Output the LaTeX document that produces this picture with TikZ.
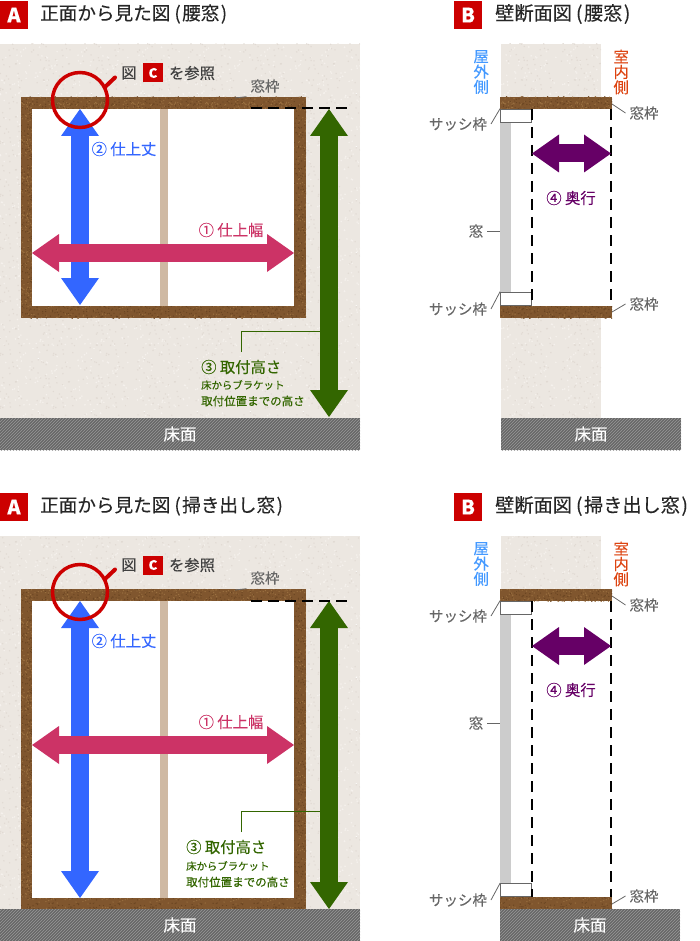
\documentclass[tikz,border=0pt]{standalone}
\usepackage{fontspec}
\setmainfont{Noto Sans CJK JP}[FakeBold=0.25]
\usetikzlibrary{arrows.meta, patterns}
\definecolor{wallbase}{HTML}{ECE7E1}
\definecolor{walllight}{HTML}{F5F1ED}
\definecolor{walldark}{HTML}{E1DAD3}
\definecolor{framebrown}{HTML}{80562E}
\definecolor{framedark}{HTML}{6A4522}
\definecolor{framelight}{HTML}{9A7040}
\definecolor{mullion}{HTML}{CFB9A3}
\definecolor{glassgray}{HTML}{CCCCCC}
\definecolor{floorgray}{HTML}{666666}
\definecolor{labelgray}{HTML}{666666}
\definecolor{markred}{HTML}{CC0000}
\definecolor{widthpink}{HTML}{CC3366}
\definecolor{heightblue}{HTML}{3366FF}
\definecolor{mountgreen}{HTML}{336600}
\definecolor{depthpurple}{HTML}{660066}
\definecolor{outerblue}{HTML}{4499FF}
\definecolor{innerred}{HTML}{DD4411}
\newcommand{\fsz}[1]{\fontsize{#1}{#1}\selectfont}
\newcommand{\wintype}[1]{\hspace{4pt}(\hspace{1.5pt}#1\hspace{1.5pt})}
% random speckle tile: name, tile size, count, radius
\newcommand{\speckletile}[4]{%
  \pgfdeclarepatternformonly{#1}{\pgfpointorigin}{\pgfqpoint{#2pt}{#2pt}}{\pgfqpoint{#2pt}{#2pt}}{%
    \foreach \i in {1,...,#3}{%
      \pgfmathsetmacro{\px}{1+rnd*(#2-2)}%
      \pgfmathsetmacro{\py}{1+rnd*(#2-2)}%
      \pgfpathcircle{\pgfqpoint{\px pt}{\py pt}}{#4pt}%
      \pgfusepath{fill}%
    }}}
\pgfmathsetseed{4711}
\speckletile{wallup}{61}{60}{0.9}
\speckletile{walldown}{53}{45}{0.8}
\speckletile{frameup}{37}{90}{0.7}
\speckletile{framedown}{41}{110}{0.7}
\tikzset{
  wallfill/.style={fill=wallbase, postaction={pattern=wallup, pattern color=walllight},
    postaction={pattern=walldown, pattern color=walldark}},
  framefill/.style={fill=framebrown, postaction={pattern=frameup, pattern color=framelight},
    postaction={pattern=framedown, pattern color=framedark}},
  badge/.style={fill=markred, text=white, minimum size=28, inner sep=0, font=\fsz{20}\bfseries},
  heading/.style={anchor=west, inner sep=0, text=black!85, font=\fsz{18.6}},
  sectionhead/.style={heading, font=\fsz{19.2}},
  label/.style={inner sep=0, outer sep=4, text=labelgray, font=\fsz{14.5}},
  numbered/.style={inner sep=0, font=\fsz{15.3}},
  note/.style={anchor=west, inner sep=0, text=mountgreen, font=\fsz{11.5}},
  noteshort/.style={note, font=\fsz{10.4}},
  vertical/.style={inner sep=0, align=center, font=\fsz{15.3}, text width=15},
  cmark/.style={fill=markred, text=white, minimum width=20, minimum height=19, inner sep=0, font=\fsz{13}\bfseries},
  sashbox/.style={draw=labelgray, fill=white, line width=0.8pt, minimum width=31, minimum height=13, inner sep=0},
  floorbar/.style={fill=floorgray, postaction={pattern=north east lines, pattern color=black!40},
    minimum height=32, inner sep=0, text=white, font=\fsz{16.5}},
  bigarrow/.style={line width=18pt,
    {Triangle[length=27pt,width=38pt,line width=0pt]}-{Triangle[length=27pt,width=38pt,line width=0pt]}},
  leader/.style={draw=labelgray, line width=0.8pt},
  greenline/.style={draw=mountgreen, line width=0.8pt},
  guide/.style={dash pattern=on 11pt off 6pt, line width=2pt},
  depthline/.style={dash pattern=on 11pt off 7pt, line width=2.2pt},
  detail/.style={circle, draw=markred, line width=3.5pt, minimum size=55, inner sep=0},
}
\begin{document}
\begin{tikzpicture}[x=1pt,y=-1pt]
    \useasboundingbox (0,0) rectangle (700,941);

    % Front view, waist window
    \node[badge] (badgeA) at (14,15) {A};
    \node[heading] (headA) at (40,14) {正面から見た図\wintype{腰窓}};
    \path[wallfill] (0,44) rectangle (360,418);
    \path[framefill] (21,97) rectangle (306,318);
    \fill[white] (32,109) rectangle (294,306);
    \fill[mullion] (160,109) rectangle (168,306);
    \node[floorbar, minimum width=360] (floorA) at (180,434) {床面};

    \coordinate (hTopA) at (80,109);
    \coordinate (hBotA) at (80,305);
    \coordinate (wLeftA) at (32,253);
    \coordinate (wRightA) at (294,253);
    \coordinate (mTopA) at (329,109);
    \coordinate (mBotA) at (329,417);
    \coordinate (guideA) at (251,108.5);
    \coordinate (guideEndA) at (347,108.5);
    \draw[bigarrow, heightblue] (hTopA) -- (hBotA);
    \draw[bigarrow, widthpink] (wLeftA) -- (wRightA);
    \draw[bigarrow, mountgreen] (mTopA) -- (mBotA);
    \draw[guide] (guideA) -- (guideEndA);

    \node[detail] (detailA) at (80,100) {};
    \coordinate (handleA) at (115,77.5);
    \draw[markred, line width=4pt, line cap=round] (detailA.28) -- (handleA);
    \node[numbered, text=black!75] (seeA) at (129,73) {図};
    \node[cmark] (seeCA) at (153,73) {C};
    \node[numbered, text=black!75] (seeRefA) at (192,73) {を参照};
    \node[label] (wakuA) at (265,86) {窓枠};
    \coordinate (wakuFootA) at (235,98);
    \draw[leader] (wakuA.south west) -- (wakuFootA);
    \node[numbered, text=heightblue] (hLabelA) at (124,149) {② 仕上丈};
    \node[numbered, text=widthpink] (wLabelA) at (231,230) {① 仕上幅};
    \node[numbered, anchor=west, text=mountgreen] (mLabelA) at (201,367) {③ 取付高さ};
    \node[noteshort] (mNoteA) at (201,385) {床からブラケット};
    \node[note] (mNoteBA) at (201,401) {取付位置までの高さ};
    \coordinate (mFootA) at (241,352);
    \coordinate (mArrowA) at (320,331);
    \draw[greenline] (mFootA) |- (mArrowA);

    % Section, waist window
    \node[badge] (badgeB) at (468,15) {B};
    \node[sectionhead] (headB) at (495,14) {壁断面図\wintype{腰窓}};
    \path[wallfill] (501,44) rectangle (601,97);
    \path[wallfill] (501,318) rectangle (601,418);
    \path[framefill] (500,97) rectangle (612,109);
    \path[framefill] (500,306) rectangle (612,318);
    \fill[glassgray] (500,122) rectangle (511,292);
    \node[floorbar, minimum width=180] (floorB) at (591,434) {床面};
    \node[sashbox] (sashB) at (516,115.5) {};
    \node[sashbox] (sashLowB) at (516,298.5) {};
    \coordinate (depthLT) at (532,109);
    \coordinate (depthLB) at (532,306);
    \coordinate (depthRT) at (611,109);
    \coordinate (depthRB) at (611,306);
    \draw[depthline] (depthLT) -- (depthLB);
    \draw[depthline] (depthRT) -- (depthRB);
    \coordinate (dLeftB) at (532,153.5);
    \coordinate (dRightB) at (611,153.5);
    \draw[bigarrow, depthpurple] (dLeftB) -- (dRightB);
    \node[numbered, text=depthpurple] (dLabelB) at (571,198) {④ 奥行};
    \node[vertical, text=outerblue] (outerB) at (481,72) {屋\\外\\側};
    \node[vertical, text=innerred] (innerB) at (621,72) {室\\内\\側};
    \node[label] (wakuB) at (644,113) {窓枠};
    \node[label] (wakuLowB) at (644,304) {窓枠};
    \node[label] (sashLabelB) at (458,124) {サッシ枠};
    \node[label] (sashLowLabelB) at (458,309) {サッシ枠};
    \node[label] (glassB) at (476,231) {窓};
    \coordinate (wakuFootB) at (612,104);
    \coordinate (wakuLowFootB) at (612,312);
    \coordinate (glassFootB) at (500,231);
    \draw[leader] (wakuB.west) -- (wakuFootB);
    \draw[leader] (wakuLowB.west) -- (wakuLowFootB);
    \draw[leader] (sashLabelB.east) -- (sashB.north west);
    \draw[leader] (sashLowLabelB.east) -- (sashLowB.north west);
    \draw[leader] (glassB.east) -- (glassFootB);

    % Front view, floor window
    \node[badge] (badgeC) at (14,507) {A};
    \node[heading] (headC) at (40,506) {正面から見た図\wintype{掃き出し窓}};
    \path[wallfill] (0,536) rectangle (360,909);
    \path[framefill] (21,589) rectangle (306,909);
    \fill[white] (32,601) rectangle (294,898);
    \fill[mullion] (160,601) rectangle (168,898);
    \node[floorbar, minimum width=360] (floorC) at (180,925) {床面};

    \coordinate (hTopC) at (80,601);
    \coordinate (hBotC) at (80,898);
    \coordinate (wLeftC) at (32,745);
    \coordinate (wRightC) at (294,745);
    \coordinate (mTopC) at (329,601);
    \coordinate (mBotC) at (329,909);
    \coordinate (guideC) at (251,600.5);
    \coordinate (guideEndC) at (347,600.5);
    \draw[bigarrow, heightblue] (hTopC) -- (hBotC);
    \draw[bigarrow, widthpink] (wLeftC) -- (wRightC);
    \draw[bigarrow, mountgreen] (mTopC) -- (mBotC);
    \draw[guide] (guideC) -- (guideEndC);

    \node[detail] (detailC) at (80,592) {};
    \coordinate (handleC) at (115,569.5);
    \draw[markred, line width=4pt, line cap=round] (detailC.28) -- (handleC);
    \node[numbered, text=black!75] (seeC) at (129,565) {図};
    \node[cmark] (seeCC) at (153,565) {C};
    \node[numbered, text=black!75] (seeRefC) at (192,565) {を参照};
    \node[label] (wakuC) at (265,578) {窓枠};
    \coordinate (wakuFootC) at (235,590);
    \draw[leader] (wakuC.south west) -- (wakuFootC);
    \node[numbered, text=heightblue] (hLabelC) at (124,641) {② 仕上丈};
    \node[numbered, text=widthpink] (wLabelC) at (231,722) {① 仕上幅};
    \node[numbered, anchor=west, text=mountgreen] (mLabelC) at (186,847) {③ 取付高さ};
    \node[noteshort] (mNoteC) at (186,866) {床からブラケット};
    \node[note] (mNoteBC) at (186,882) {取付位置までの高さ};
    \coordinate (mFootC) at (241,832);
    \coordinate (mArrowC) at (320,811.5);
    \draw[greenline] (mFootC) |- (mArrowC);

    % Section, floor window
    \node[badge] (badgeD) at (468,507) {B};
    \node[sectionhead] (headD) at (495,506) {壁断面図\wintype{掃き出し窓}};
    \path[wallfill] (501,536) rectangle (601,589);
    \path[framefill] (500,589) rectangle (612,601);
    \path[framefill] (500,897) rectangle (612,909);
    \fill[glassgray] (500,614) rectangle (511,884);
    \node[floorbar, minimum width=180] (floorD) at (590,925) {床面};
    \node[sashbox] (sashD) at (516,607.5) {};
    \node[sashbox] (sashLowD) at (516,890) {};
    \coordinate (depthLTD) at (532,601);
    \coordinate (depthLBD) at (532,897);
    \coordinate (depthRTD) at (611,601);
    \coordinate (depthRBD) at (611,897);
    \draw[depthline] (depthLTD) -- (depthLBD);
    \draw[depthline] (depthRTD) -- (depthRBD);
    \coordinate (dLeftD) at (532,646);
    \coordinate (dRightD) at (611,646);
    \draw[bigarrow, depthpurple] (dLeftD) -- (dRightD);
    \node[numbered, text=depthpurple] (dLabelD) at (571,690) {④ 奥行};
    \node[vertical, text=outerblue] (outerD) at (481,564) {屋\\外\\側};
    \node[vertical, text=innerred] (innerD) at (621,564) {室\\内\\側};
    \node[label] (wakuD) at (644,605) {窓枠};
    \node[label] (wakuLowD) at (644,896) {窓枠};
    \node[label] (sashLabelD) at (458,616) {サッシ枠};
    \node[label] (sashLowLabelD) at (458,900) {サッシ枠};
    \node[label] (glassD) at (476,723) {窓};
    \coordinate (wakuFootD) at (612,596);
    \coordinate (wakuLowFootD) at (612,904);
    \coordinate (glassFootD) at (500,723);
    \draw[leader] (wakuD.west) -- (wakuFootD);
    \draw[leader] (wakuLowD.west) -- (wakuLowFootD);
    \draw[leader] (sashLabelD.east) -- (sashD.north west);
    \draw[leader] (sashLowLabelD.east) -- (sashLowD.north west);
    \draw[leader] (glassD.east) -- (glassFootD);
\end{tikzpicture}
\end{document}
